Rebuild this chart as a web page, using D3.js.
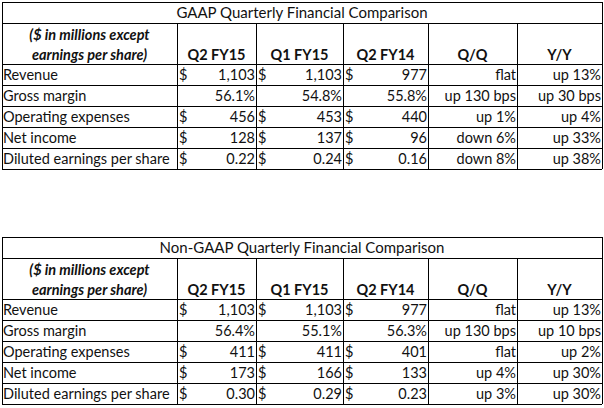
<!DOCTYPE html>
<html><head><meta charset="utf-8">
<script src="https://cdn.jsdelivr.net/npm/d3@7"></script>
<style>body{margin:0;background:#fff}text{font-family:Lato,"Open Sans",sans-serif;font-size:14.5px;fill:#111}</style>
</head><body><svg id="c" width="604" height="408"></svg>
<script>
const titles = ["GAAP Quarterly Financial Comparison","Non-GAAP Quarterly Financial Comparison"];
const columns = ["Q2 FY15","Q1 FY15","Q2 FY14","Q/Q","Y/Y"];
const rowLabels = ["Revenue","Gross margin","Operating expenses","Net income","Diluted earnings per share"];
const dollarRows = [true,false,true,true,true];
const gaapValues = [["1,103","1,103","977","flat","up 13%"],["56.1%","54.8%","55.8%","up 130 bps","up 30 bps"],["456","453","440","up 1%","up 4%"],["128","137","96","down 6%","up 33%"],["0.22","0.24","0.16","down 8%","up 38%"]];
const nonGaapValues = [["1,103","1,103","977","flat","up 13%"],["56.4%","55.1%","56.3%","up 130 bps","up 10 bps"],["411","411","401","flat","up 2%"],["173","166","133","up 4%","up 30%"],["0.30","0.29","0.23","up 3%","up 30%"]];
const svg = d3.select("#c");
const xb = [2,177,256,343,428,517,602];
function table(top, title, vals){
  const g = svg.append("g");
  const yb = [top, top+21, top+62]; for(let i=1;i<=5;i++) yb.push(top+62+21*i);
  const bottom = yb[yb.length-1];
  g.append("text").attr("x",(xb[0]+xb[6])/2).attr("y",top+16).attr("text-anchor","middle").style("font-size","15px").text(title);
  g.append("text").attr("x",(xb[0]+xb[1])/2).attr("y",top+38).attr("text-anchor","middle").style("font-style","italic").style("font-weight","bold").text("($ in millions except");
  g.append("text").attr("x",(xb[0]+xb[1])/2).attr("y",top+58).attr("text-anchor","middle").style("font-style","italic").style("font-weight","bold").text("earnings per share)");
  columns.forEach((c,i)=>g.append("text").attr("x",(xb[i+1]+xb[i+2])/2).attr("y",top+58).attr("text-anchor","middle").style("font-weight","bold").text(c));
  rowLabels.forEach((r,j)=>{
    const y = yb[2+j]+16;
    g.append("text").attr("x",xb[0]+1).attr("y",y).text(r);
    vals[j].forEach((v,i)=>{
      g.append("text").attr("x",xb[i+2]-1).attr("y",y).attr("text-anchor","end").text(v);
      if(dollarRows[j] && i<3) g.append("text").attr("x",xb[i+1]+2).attr("y",y).text("$");
    });
  });
  const L=(x1,y1,x2,y2)=>g.append("line").attr("x1",x1).attr("y1",y1).attr("x2",x2).attr("y2",y2).attr("stroke","#000").attr("stroke-width",1).attr("shape-rendering","crispEdges");
  yb.forEach(y=>L(xb[0],y,xb[6],y));
  L(xb[0],top,xb[0],bottom); L(xb[6],top,xb[6],bottom);
  xb.slice(1,6).forEach(x=>L(x,yb[1],x,bottom));
}
table(2,titles[0],gaapValues);
table(237,titles[1],nonGaapValues);
</script></body></html>
